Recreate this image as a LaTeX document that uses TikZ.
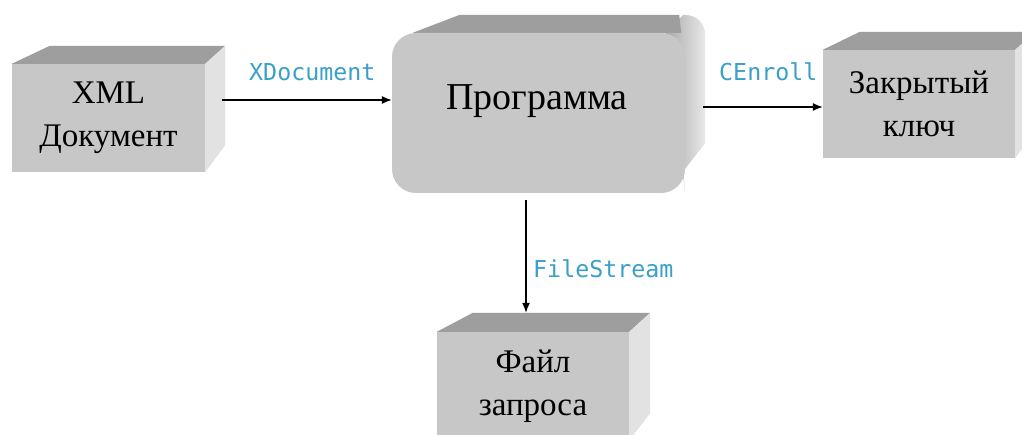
\documentclass[tikz,border=0pt]{standalone}
\usepackage{fontspec}
\setmainfont{Liberation Serif}
\newfontfamily\codefont{DejaVu Sans Mono}
\usetikzlibrary{arrows.meta,calc,backgrounds}
\definecolor{frontgray}{RGB}{199,199,199}
\definecolor{topgray}{RGB}{158,158,158}
\definecolor{sidegray}{RGB}{226,226,226}
\definecolor{sidedark}{RGB}{170,170,170}
\definecolor{sidelight}{RGB}{232,232,232}
\definecolor{codecyan}{RGB}{58,160,200}
\begin{document}
\begin{tikzpicture}[x=1pt,y=-1pt,
  face/.style={rectangle, fill=frontgray, draw=none, inner sep=0pt, align=center,
    minimum width=192pt, minimum height=108pt, font=\fontsize{33}{43}\selectfont},
  topface/.style={fill=topgray},
  sideface/.style={fill=sidegray},
  conn/.style={line width=1.3pt, -{Latex[length=10pt,width=8pt]}},
  code/.style={font=\codefont\fontsize{23.3}{27}\selectfont, text=codecyan, inner sep=0pt, anchor=base west}
]
\useasboundingbox (0,0) rectangle (1022,435);
\clip (0,0) rectangle (1022,435);

% front faces
\node[face, minimum width=193pt] (xml) at (108.5,118) {XML\\Документ};
\node[rectangle, fill=frontgray, draw=none, rounded corners=24pt, minimum width=293pt, minimum height=160pt] (prog) at (538.5,113) {};
\node[font=\fontsize{38}{44}\selectfont, anchor=base, inner sep=0pt] (progtext) at (537,110) {Программа};
\node[face] (key) at (919,104) {Закрытый\\ключ};
\node[face] (file) at (533,386) {Файл\\запроса};

\begin{scope}[on background layer]
  \fill[white] (0,0) rectangle (1022,435);
  % XML box
  \fill[topface] (xml.north west) -- ++(38,-18) -- ($(xml.north east)+(20,-18)$) -- (xml.north east) -- cycle;
  \fill[sideface] (xml.north east) -- ++(20,-18) -- ($(xml.south east)+(20,-27)$) -- (xml.south east) -- cycle;
  % Program box
  \shade[left color=sidedark, right color=sidelight]
    ($(prog.north east)+(-20,0)$) -- ($(prog.north east)+(-2,-18)$)
    .. controls ($(prog.north east)+(12,-18)$) and ($(prog.north east)+(20,-10)$) .. ($(prog.north east)+(20,4)$)
    -- ($(prog.south east)+(20,-50)$) -- ($(prog.south east)+(-2,-22)$) -- (prog.south east) -- cycle;
  \fill[topface] ($(prog.north west)+(21,0)$) -- ($(prog.north west)+(68,-18)$) -- ($(prog.north east)+(-6,-18)$) -- ($(prog.north east)+(-4,0)$) -- cycle;
  % key box
  \fill[topface] (key.north west) -- ++(37,-18) -- ($(key.north east)+(20,-18)$) -- (key.north east) -- cycle;
  \fill[sideface] (key.north east) -- ++(20,-18) -- ($(key.south east)+(20,-27)$) -- (key.south east) -- cycle;
  % file box
  \fill[topface] (file.north west) -- ++(36,-19) -- ($(file.north east)+(21,-19)$) -- (file.north east) -- cycle;
  \fill[sideface] (file.north east) -- ++(21,-19) -- ($(file.south east)+(21,-27)$) -- (file.south east) -- cycle;
\end{scope}

% connectors
\draw[conn] ($(xml.east)+(17,-18)$) -- ($(prog.west)+(0,-13)$);
\draw[conn] ($(prog.east)+(18,-6)$) -- ($(key.west)+(0,3)$);
\draw[conn] ($(prog.south)+(-12.5,7)$) -- ($(file.north)+(-7,-19)$);

% labels
\node[code] (lxdoc) at (249,81) {XDocument};
\node[code] (lcen) at (719,81) {CEnroll};
\node[code] (lfs) at (533,278) {FileStream};
\end{tikzpicture}
\end{document}
